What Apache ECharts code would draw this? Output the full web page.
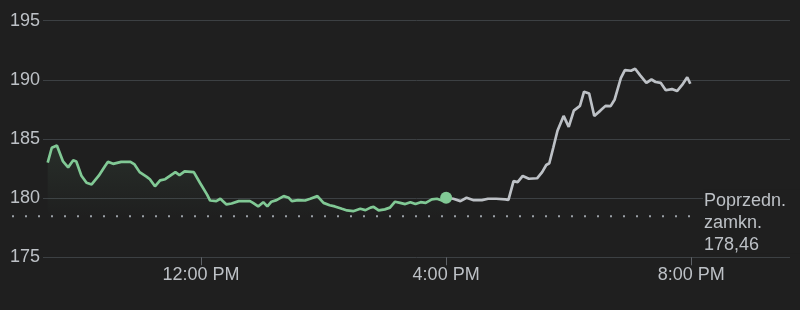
<!DOCTYPE html>
<html><head><meta charset="utf-8">
<script src="https://cdn.jsdelivr.net/npm/echarts@6/dist/echarts.min.js"></script>
<style>html,body{margin:0;padding:0;background:#1f1f1f;}#c{width:800px;height:310px;}</style>
</head><body><div id="c"></div>
<script>
// Regular session (green)
const sessionTimes = ["9:30","9:34","9:39","9:45","9:50","9:55","9:58","10:03","10:08","10:13","10:20","10:26","10:29","10:34","10:42","10:51","10:55","11:00","11:07","11:10","11:15","11:20","11:25","11:30","11:35","11:39","11:44","11:53","11:59","12:06","12:09","12:15","12:19","12:25","12:30","12:37","12:48","12:51","12:56","13:01","13:05","13:09","13:14","13:21","13:26","13:29","13:35","13:42","13:47","13:54","14:00","14:06","14:11","14:18","14:23","14:29","14:36","14:41","14:46","14:49","14:54","15:00","15:05","15:10","15:15","15:20","15:25","15:30","15:35","15:40","15:46","15:51","15:56","16:00"];
const sessionPrices = [183.0,184.26,184.45,183.1,182.6,183.2,183.1,181.9,181.3,181.16,181.9,182.7,183.07,182.9,183.07,183.07,182.85,182.2,181.8,181.6,181.0,181.5,181.6,181.9,182.2,181.95,182.26,182.2,181.3,180.3,179.8,179.75,179.95,179.47,179.55,179.75,179.75,179.6,179.3,179.66,179.3,179.7,179.83,180.17,180.03,179.75,179.83,179.8,179.95,180.17,179.6,179.4,179.3,179.1,178.96,178.9,179.1,178.99,179.2,179.27,178.96,179.05,179.2,179.7,179.6,179.5,179.66,179.5,179.66,179.6,179.9,179.95,179.8,180.03];
// After hours (gray)
const afterTimes = ["16:00","16:07","16:14","16:20","16:27","16:35","16:41","16:49","16:58","17:01","17:06","17:10","17:15","17:21","17:29","17:34","17:38","17:41","17:45","17:49","17:55","18:00","18:05","18:11","18:15","18:20","18:25","18:31","18:36","18:41","18:45","18:51","18:55","19:01","19:05","19:10","19:16","19:21","19:25","19:30","19:35","19:41","19:46","19:51","19:56","19:59"];
const afterPrices = [180.03,179.95,179.75,180.03,179.83,179.83,179.95,179.95,179.9,179.85,181.44,181.35,181.88,181.64,181.68,182.2,182.8,182.95,184.3,185.7,186.95,186.03,187.4,187.8,189.0,188.84,186.95,187.4,187.8,187.78,188.34,190.15,190.82,190.77,190.94,190.38,189.75,190.03,189.82,189.75,189.12,189.22,189.05,189.57,190.22,189.67];
const prevClose = 178.46;
const prevCloseLabel = "Poprzedn.\nzamkn.\n178,46";
const xTickTimes = ["12:00","16:00","20:00"];
const xTickLabels = ["12:00 PM","4:00 PM","8:00 PM"];
const yTicks = [175,180,185,190,195];

function toMin(s){const p=s.split(":");return (+p[0])*60+(+p[1]);}
const tickMins = xTickTimes.map(toMin);
const labelMap = {}; tickMins.forEach((m,i)=>labelMap[m]=xTickLabels[i]);
const sessionData = sessionTimes.map((t,i)=>[toMin(t),sessionPrices[i]]);
const afterData = afterTimes.map((t,i)=>[toMin(t),afterPrices[i]]);
const lastSession = sessionData[sessionData.length-1];

const FONT = '"Liberation Sans", Arial, sans-serif';
const chart = echarts.init(document.getElementById('c'), null, {renderer:'canvas'});
chart.setOption({
  animation:false,
  backgroundColor:'#1f1f1f',
  grid:{left:43,right:10,top:20.7,bottom:52.7},
  xAxis:{type:'value',min:565.4,max:1296.6,
    axisLine:{show:false},
    splitLine:{show:false},
    axisTick:{show:true,customValues:tickMins,length:8,lineStyle:{color:'#5f6368'}},
    axisLabel:{customValues:tickMins,formatter:v=>labelMap[v]||'',color:'#bdc1c6',fontSize:18,fontFamily:FONT,margin:9}
  },
  yAxis:{type:'value',min:yTicks[0],max:yTicks[yTicks.length-1],interval:5,
    axisLine:{show:false},axisTick:{show:false},
    splitLine:{lineStyle:{color:'#3c4043',width:1}},
    axisLabel:{color:'#bdc1c6',fontSize:18,fontFamily:FONT,margin:3}
  },
  series:[
    {type:'line',data:sessionData,showSymbol:false,symbol:'none',
      lineStyle:{color:'#81c995',width:2.7},
      areaStyle:{origin:prevClose,color:new echarts.graphic.LinearGradient(0,0,0,1,[
        {offset:0,color:'rgba(129,201,149,0.13)'},{offset:1,color:'rgba(129,201,149,0.0)'}])},
      z:3},
    {type:'line',data:afterData,showSymbol:false,symbol:'none',
      lineStyle:{color:'#bdc1c6',width:2.7},z:2},
    {type:'scatter',data:[lastSession],symbolSize:12,itemStyle:{color:'#81c995',opacity:1},z:4}
  ]
});
const py = chart.convertToPixel({yAxisIndex:0}, prevClose);
chart.setOption({graphic:[
  {type:'line',shape:{x1:12,y1:py,x2:701,y2:py},style:{stroke:'#9aa0a6',lineWidth:2,lineDash:[2,11]},z:10},
  {type:'rect',shape:{x:703,y:py-27,width:97,height:64},style:{fill:'#1f1f1f'},z:11},
  {type:'text',x:704,y:py-26,style:{text:prevCloseLabel,fill:'#bdc1c6',fontSize:18,fontFamily:FONT,lineHeight:22,verticalAlign:'top'},z:12}
]});
</script></body></html>
